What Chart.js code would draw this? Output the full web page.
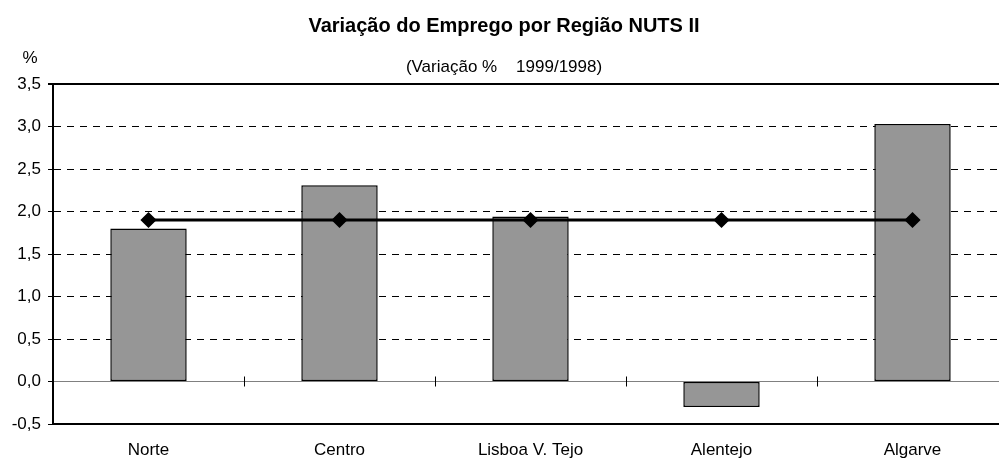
<!DOCTYPE html>
<html>
<head>
<meta charset="utf-8">
<script src="https://cdn.jsdelivr.net/npm/chart.js@4/dist/chart.umd.min.js"></script>
<style>
  body { margin: 0; background: #fff; overflow: hidden; }
  #wrap { width: 999px; height: 460px; overflow: hidden; }
  #c { display: block; }
</style>
</head>
<body>
<div id="wrap"><canvas id="c" width="1024" height="460"></canvas></div>
<script>
var regioes = ["Norte", "Centro", "Lisboa V. Tejo", "Alentejo", "Algarve"];
var variacao = [1.8, 2.31, 1.94, -0.3, 3.03];
var mediaNacional = [1.9, 1.9, 1.9, 1.9, 1.9];
var titulo = "Variação do Emprego por Região NUTS II";
var subtitulo = "(Variação %    1999/1998)";
var unidade = "%";

var fonte = "Arial, 'Liberation Sans', sans-serif";
Chart.defaults.font.family = fonte;
Chart.defaults.color = "#000";

function virgula(v) {
    return Number(v).toFixed(1).replace(".", ",");
}

// tracinhos na linha do zero entre categorias + unidade por cima do eixo
var extras = {
    id: "extras",
    afterDraw: function(chart) {
	var ctx = chart.ctx;
	var xs = chart.scales.x;
	var ys = chart.scales.y;
	var y0 = ys.getPixelForValue(0);
	ctx.save();
	ctx.strokeStyle = "#000";
	ctx.lineWidth = 1;
	for (var i = 1; i < regioes.length; i++) {
	    var x = Math.round((xs.getPixelForValue(i - 1) + xs.getPixelForValue(i)) / 2) + 0.5;
	    ctx.beginPath();
	    ctx.moveTo(x, y0 - 5);
	    ctx.lineTo(x, y0 + 5);
	    ctx.stroke();
	}
	ctx.fillStyle = "#000";
	ctx.font = "17px " + fonte;
	ctx.textAlign = "center";
	ctx.textBaseline = "middle";
	ctx.fillText(unidade, chart.chartArea.left - 23, chart.chartArea.top - 26);
	ctx.restore();
    }
};

var chart = new Chart(document.getElementById("c"), {
    type: "bar",
    data: {
	labels: regioes,
	datasets: [
	    {
		type: "line",
		data: mediaNacional,
		borderColor: "#000",
		borderWidth: 3,
		pointStyle: "rectRot",
		pointRadius: 6,
		pointBackgroundColor: "#000",
		pointBorderColor: "#000",
		order: 0
	    },
	    {
		data: variacao,
		backgroundColor: "#969696",
		borderColor: "#000",
		borderWidth: 1.5,
		borderSkipped: false,
		barPercentage: 0.4,
		categoryPercentage: 1,
		order: 1
	    }
	]
    },
    options: {
	responsive: false,
	animation: false,
	layout: { padding: { left: 0, right: 16, top: 0, bottom: 0 } },
	plugins: {
	    legend: { display: false },
	    tooltip: { enabled: false },
	    title: {
		display: true,
		text: titulo,
		font: { size: 20, weight: "bold" },
		color: "#000",
		padding: { top: 14, bottom: 9 }
	    },
	    subtitle: {
		display: true,
		text: subtitulo,
		font: { size: 17 },
		color: "#000",
		padding: { top: 10, bottom: 6.6 }
	    }
	},
	scales: {
	    x: {
		grid: { display: false, drawTicks: false },
		border: { color: "#000", width: 2 },
		ticks: { font: { size: 17 }, color: "#000", padding: 16 },
		afterFit: function(s) { s.height = 36; }
	    },
	    y: {
		min: -0.5,
		max: 3.5,
		ticks: {
		    stepSize: 0.5,
		    font: { size: 17 },
		    color: "#000",
		    padding: 7,
		    callback: function(v) { return virgula(v); }
		},
		grid: {
		    color: function(c) { return c.tick && c.tick.value === 0 ? "#808080" : "#000"; },
		    lineWidth: function(c) { return c.tick && c.tick.value === 3.5 ? 2 : 1; },
		    tickLength: 5,
		    tickColor: "#000"
		},
		border: {
		    color: "#000",
		    width: 2,
		    dash: function(c) {
			var v = c.tick ? c.tick.value : null;
			return (v === 0 || v === 3.5 || v === -0.5) ? [] : [7, 6];
		    }
		},
		afterFit: function(s) { s.width = 53; }
	    }
	}
    },
    plugins: [extras]
});
</script>
</body>
</html>
